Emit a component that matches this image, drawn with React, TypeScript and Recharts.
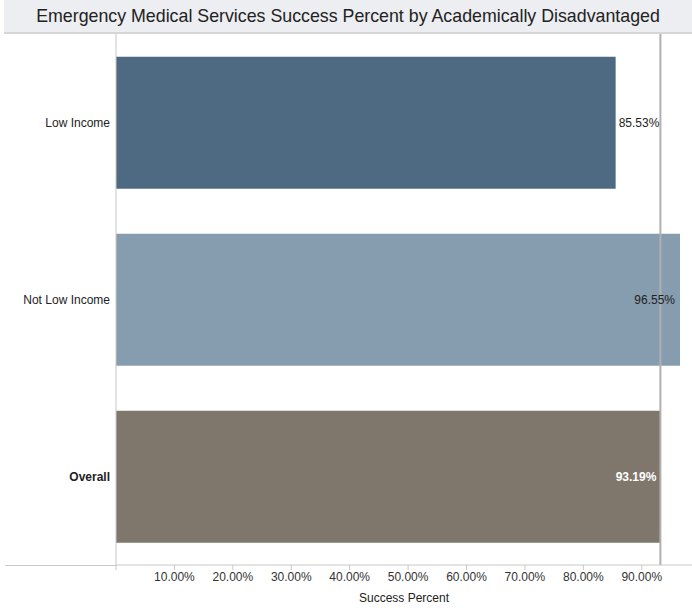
import React from "react"
import { BarChart, Bar, XAxis, YAxis, Cell, LabelList, ReferenceLine } from "recharts"

const categories = ["Low Income", "Not Low Income", "Overall"]
const successPercent = [85.53, 96.55, 93.19]
const barColors = ["#4e6a82", "#869db0", "#7f766c"]
const xTicks = [0, 10, 20, 30, 40, 50, 60, 70, 80, 90]
const overallValue = 93.19

const FONT = '"Liberation Sans", Arial, sans-serif'

const data = categories.map((name, i) => ({
  name,
  value: successPercent[i],
  color: barColors[i],
}))

function CategoryTick({ x, y, payload }: any) {
  const bold = payload.value === "Overall"
  return (
    <text x={x + 2} y={y} dy={4} textAnchor="end" fontSize={12} fontFamily={FONT}
      fill="#222" fontWeight={bold ? "bold" : "normal"}>
      {payload.value}
    </text>
  )
}

function ValueLabel(props: any) {
  const { x, y, width, height, value, index } = props
  const cy = y + height / 2 + 4
  const txt = `${value.toFixed(2)}%`
  if (index === 0) {
    return <text x={x + width + 3} y={cy} fontSize={12} fontFamily={FONT} fill="#222">{txt}</text>
  }
  if (index === 1) {
    return <text x={x + width - 5} y={cy} textAnchor="end" fontSize={12} fontFamily={FONT} fill="#222">{txt}</text>
  }
  return (
    <text x={x + width - 4} y={cy} textAnchor="end" fontSize={12} fontFamily={FONT}
      fill="#fff" fontWeight="bold">{txt}</text>
  )
}

export default function App() {
  return (
    <div style={{ position: "absolute", left: 0, top: 0, width: 692, height: 609, background: "#fff", fontFamily: FONT }}>
      <div style={{
        position: "absolute", left: 4, top: 0, width: 688, height: 32,
        background: "#eceef1", borderBottom: "2px solid #d6d6d6",
        textAlign: "center", lineHeight: "33px", fontSize: 17.8, color: "#222",
      }}>
        Emergency Medical Services Success Percent by Academically Disadvantaged
      </div>
      <BarChart width={692} height={609} data={data} layout="vertical"
        margin={{ top: 34, right: 0, bottom: 0, left: 0 }} barCategoryGap="12.8%">
        <XAxis type="number" dataKey="value" domain={[0, 98.6]} ticks={xTicks} height={44}
          tickFormatter={(v: number) => (v === 0 ? "" : `${v.toFixed(2)}%`)}
          tick={{ fontSize: 12, fill: "#333", fontFamily: FONT }}
          tickLine={{ stroke: "#c8c8c8" }} tickSize={5}
          axisLine={{ stroke: "#c8c8c8" }}
          label={{ value: "Success Percent", position: "insideBottom", offset: 7, fontSize: 12, fill: "#222", fontFamily: FONT }} />
        <YAxis type="category" dataKey="name" width={116} tick={<CategoryTick />}
          tickLine={false} axisLine={{ stroke: "#c8c8c8" }} />
        <Bar dataKey="value" isAnimationActive={false}>
          {data.map((d) => (
            <Cell key={d.name} fill={d.color} />
          ))}
          <LabelList dataKey="value" content={<ValueLabel />} />
        </Bar>
        <ReferenceLine x={overallValue} stroke="#b0b0b0" strokeWidth={2} />
      </BarChart>
      <div style={{ position: "absolute", left: 5, top: 565, width: 112, height: 1, background: "#c8c8c8" }} />
    </div>
  )
}
